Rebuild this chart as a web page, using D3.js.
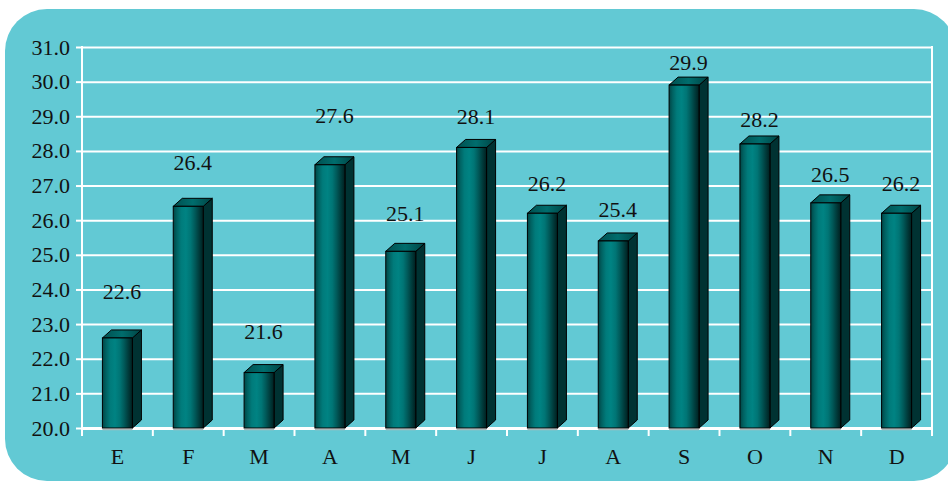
<!DOCTYPE html>
<html>
<head>
<meta charset="utf-8">
<script src="https://cdn.jsdelivr.net/npm/d3@7"></script>
<style>
  html, body { margin: 0; padding: 0; background: #ffffff; }
  svg { display: block; }
  text { font-family: "Liberation Serif", "Times New Roman", serif; fill: #111; }
</style>
</head>
<body>
<svg id="chart" width="948" height="481"></svg>
<script>
// Monthly values (Enero ... Diciembre)
const months = ["E", "F", "M", "A", "M", "J", "J", "A", "S", "O", "N", "D"];
const values = [22.6, 26.4, 21.6, 27.6, 25.1, 28.1, 26.2, 25.4, 29.9, 28.2, 26.5, 26.2];
const yTicks = [20, 21, 22, 23, 24, 25, 26, 27, 28, 29, 30, 31];

// How far each value label sits above its bar (px)
const labelLift = [39, 36, 34, 42, 30, 23, 22, 24, 15, 17, 21, 22];

const svg = d3.select("#chart");
const plot = { left: 82, right: 932, top: 47, bottom: 428 };

// Rounded panel background
svg.append("rect")
  .attr("x", 5).attr("y", 9)
  .attr("width", 951).attr("height", 472)
  .attr("rx", 42).attr("ry", 42)
  .attr("fill", "#62c9d4");

const x = d3.scaleBand()
  .domain(d3.range(months.length))
  .range([plot.left, plot.right])
  .padding(0);

const y = d3.scaleLinear()
  .domain([20, 31])
  .range([plot.bottom, plot.top]);

// Horizontal grid lines
const grid = svg.append("g")
  .attr("transform", `translate(${plot.left},0)`)
  .call(d3.axisLeft(y).tickValues(yTicks).tickSize(-(plot.right - plot.left)).tickFormat(""));
grid.select(".domain").remove();
grid.selectAll(".tick line").attr("stroke", "#ffffff").attr("stroke-width", 2);

// Y axis with labels
const yAxis = svg.append("g")
  .attr("transform", `translate(${plot.left},0)`)
  .call(d3.axisLeft(y).tickValues(yTicks).tickSize(6).tickPadding(6).tickFormat(d3.format(".1f")));
yAxis.select(".domain").remove();
yAxis.selectAll(".tick line").attr("stroke", "#ffffff").attr("stroke-width", 2);
yAxis.selectAll(".tick text")
  .attr("font-size", 22)
  .attr("font-family", "'Liberation Serif', 'Times New Roman', serif")
  .attr("fill", "#111")
  .attr("dy", "0.32em");

// Left frame line
svg.append("line")
  .attr("x1", plot.left).attr("x2", plot.left)
  .attr("y1", plot.top - 1).attr("y2", plot.bottom + 8)
  .attr("stroke", "#ffffff").attr("stroke-width", 2);

// X axis: boundary ticks (last one runs up as the right frame) and centred labels
const bounds = d3.range(months.length).map(i => x(i)).concat([x.range()[1]]);
svg.append("g").selectAll("line")
  .data(bounds)
  .join("line")
  .attr("x1", d => d).attr("x2", d => d)
  .attr("y1", d => d === plot.right ? plot.top - 1 : plot.bottom)
  .attr("y2", plot.bottom + 8)
  .attr("stroke", "#ffffff").attr("stroke-width", 2);

const xAxis = svg.append("g")
  .attr("transform", `translate(0,${plot.bottom})`)
  .call(d3.axisBottom(x).tickSize(0).tickPadding(20).tickFormat(i => months[i]));
xAxis.select(".domain").remove();
xAxis.selectAll(".tick text")
  .attr("font-size", 22)
  .attr("font-family", "'Liberation Serif', 'Times New Roman', serif")
  .attr("fill", "#111");

// Base line of the category axis
svg.append("line")
  .attr("x1", plot.left - 1).attr("x2", plot.right + 1)
  .attr("y1", plot.bottom + 0.5).attr("y2", plot.bottom + 0.5)
  .attr("stroke", "#ffffff").attr("stroke-width", 3);

// Gradients for the 3D bars
const defs = svg.append("defs");
const frontGrad = defs.append("linearGradient").attr("id", "barFront")
  .attr("x1", "0%").attr("x2", "100%").attr("y1", "0%").attr("y2", "0%");
[
  [0, "#004545"], [0.12, "#006262"], [0.26, "#007b7b"], [0.42, "#008383"],
  [0.58, "#007575"], [0.72, "#005a5a"], [0.86, "#003c3c"], [1, "#001f1f"]
].forEach(([o, c]) => frontGrad.append("stop").attr("offset", o).attr("stop-color", c));

const topGrad = defs.append("linearGradient").attr("id", "barTop")
  .attr("x1", "0%").attr("x2", "100%").attr("y1", "0%").attr("y2", "0%");
[[0, "#004f4f"], [0.5, "#006d6d"], [1, "#004444"]]
  .forEach(([o, c]) => topGrad.append("stop").attr("offset", o).attr("stop-color", c));

const barW = 30, dx = 9, dy = 8;
const bars = svg.append("g").selectAll("g")
  .data(values)
  .join("g");

const x0 = (d, i) => x(i) + x.bandwidth() / 2 - barW / 2;

// Shadow strip under each bar
bars.append("line")
  .attr("x1", (d, i) => x0(d, i)).attr("x2", (d, i) => x0(d, i) + barW)
  .attr("y1", plot.bottom + 1.5).attr("y2", plot.bottom + 1.5)
  .attr("stroke", "#a9b9bb").attr("stroke-width", 1.5);

// Side face
bars.append("path")
  .attr("d", (d, i) => {
    const a = x0(d, i) + barW, t = y(d), b = y(20);
    return `M${a},${t}L${a + dx},${t - dy}L${a + dx},${b - dy}L${a},${b}Z`;
  })
  .attr("fill", "#003232")
  .attr("stroke", "#000").attr("stroke-width", 1).attr("stroke-linejoin", "round");

// Top face
bars.append("path")
  .attr("d", (d, i) => {
    const a = x0(d, i), t = y(d);
    return `M${a},${t}L${a + dx},${t - dy}L${a + barW + dx},${t - dy}L${a + barW},${t}Z`;
  })
  .attr("fill", "url(#barTop)")
  .attr("stroke", "#000").attr("stroke-width", 1).attr("stroke-linejoin", "round");

// Front face
bars.append("rect")
  .attr("x", (d, i) => x0(d, i))
  .attr("y", d => y(d))
  .attr("width", barW)
  .attr("height", d => y(20) - y(d))
  .attr("fill", "url(#barFront)")
  .attr("stroke", "#000").attr("stroke-width", 1);

// Value labels
svg.append("g").selectAll("text")
  .data(values)
  .join("text")
  .attr("x", (d, i) => x(i) + x.bandwidth() / 2 + dx / 2)
  .attr("y", (d, i) => y(d) - labelLift[i])
  .attr("text-anchor", "middle")
  .attr("font-size", 22)
  .text(d => d3.format(".1f")(d));
</script>
</body>
</html>
